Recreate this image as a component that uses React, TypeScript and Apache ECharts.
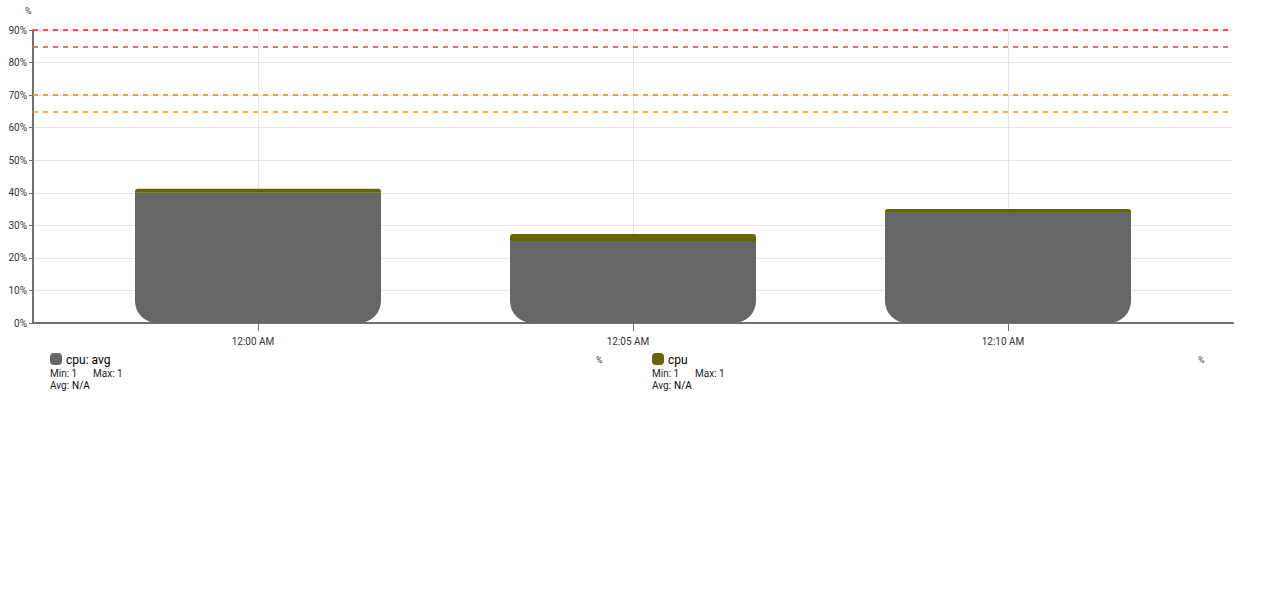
import React, { useEffect, useRef } from "react";
import * as echarts from "echarts";

// ---- data ----
const timeLabels = ["12:00 AM", "12:05 AM", "12:10 AM"];
const timeOffsetsMin = [0, 5, 10];
const axisPadMin = 3;
const cpuAvgValues = [40, 25.2, 34.1];
const cpuValues = [1.2, 2.1, 0.9];
const redThresholds = [90, 85];
const orangeThresholds = [70, 65];
const yTicks = [0, 10, 20, 30, 40, 50, 60, 70, 80, 90];
const legendItems = [
  { name: "cpu: avg", color: "#666666", min: "1", max: "1", avg: "N/A", unit: "%" },
  { name: "cpu", color: "#666600", min: "1", max: "1", avg: "N/A", unit: "%" },
];

const FONT = "Roboto, 'Noto Sans', sans-serif";

export default function App() {
  const ref = useRef<HTMLDivElement>(null);
  useEffect(() => {
    if (!ref.current) return;
    const chart = echarts.init(ref.current, undefined, { renderer: "svg" });

    const startMin = timeOffsetsMin[0] - axisPadMin;
    const endMin = timeOffsetsMin[timeOffsetsMin.length - 1] + axisPadMin;
    const slots: string[] = [];
    const avgData: (number | null)[] = [];
    const cpuData: (number | null)[] = [];
    for (let m = startMin; m <= endMin; m++) {
      const i = timeOffsetsMin.indexOf(m);
      slots.push(i >= 0 ? timeLabels[i] : "");
      avgData.push(i >= 0 ? cpuAvgValues[i] : null);
      cpuData.push(i >= 0 ? cpuValues[i] : null);
    }
    const isLabeled = (_idx: number, val: string) => val !== "";

    const markLines = [
      ...redThresholds.map((v, k) => ({
        yAxis: v,
        lineStyle: { color: k === 0 ? "#ff4848" : "#f55a5a", type: [5, 5], width: 2, opacity: k === 0 ? 1 : 0.9 },
      })),
      ...orangeThresholds.map((v, k) => ({
        yAxis: v,
        lineStyle: { color: k === 0 ? "#ff9a1a" : "#ffa033", type: [5, 5], width: 2, opacity: k === 0 ? 1 : 0.9 },
      })),
    ];

    const graphics: any[] = [
      {
        type: "text",
        left: 25,
        top: 6,
        style: { text: "%", fontSize: 9, fill: "#333", fontFamily: FONT },
      },
    ];
    legendItems.forEach((it, k) => {
      const x0 = 50 + k * 602;
      graphics.push(
        { type: "rect", shape: { x: x0, y: 353, width: 12, height: 12, r: 4 }, style: { fill: it.color } },
        { type: "text", x: x0 + 16, y: 360, style: { text: it.name, fontSize: 12, fontWeight: "normal", fill: "#000", fontFamily: FONT, verticalAlign: "middle" } },
        { type: "text", x: x0, y: 373, style: { text: "Min: " + it.min, fontSize: 10, fill: "#222", fontFamily: FONT, verticalAlign: "middle" } },
        { type: "text", x: x0 + 43, y: 373, style: { text: "Max: " + it.max, fontSize: 10, fill: "#222", fontFamily: FONT, verticalAlign: "middle" } },
        { type: "text", x: x0, y: 385, style: { text: "Avg: ", fontSize: 10, fill: "#222", fontFamily: FONT, verticalAlign: "middle" } },
        { type: "text", x: x0 + 22, y: 385, style: { text: it.avg, fontSize: 10, fill: "#000", fontFamily: FONT, verticalAlign: "middle" } },
        { type: "text", x: x0 + 546, y: 360, style: { text: it.unit, fontSize: 9, fill: "#444", fontFamily: FONT, verticalAlign: "middle" } }
      );
    });

    chart.setOption({
      animation: false,
      textStyle: { fontFamily: FONT },
      grid: { left: 33, right: 47, top: 30, bottom: 267, containLabel: false },
      xAxis: {
        type: "category",
        data: slots,
        boundaryGap: false,
        axisLine: { lineStyle: { color: "#707070", width: 2 } },
        axisTick: { interval: isLabeled, length: 8, lineStyle: { color: "#707070", width: 1 } },
        axisLabel: { interval: isLabeled, fontSize: 10, color: "#333", margin: 13, padding: [0, 10, 0, 0], fontFamily: FONT },
        splitLine: { show: true, interval: isLabeled, lineStyle: { color: "#e6e6e6", width: 1 } },
      },
      yAxis: {
        type: "value",
        min: yTicks[0],
        max: yTicks[yTicks.length - 1],
        interval: 10,
        axisLine: { show: true, lineStyle: { color: "#707070", width: 2 } },
        axisTick: { show: true, length: 4, lineStyle: { color: "#707070" } },
        axisLabel: { formatter: "{value}%", fontSize: 10, color: "#333", margin: 6, fontFamily: FONT },
        splitLine: { show: true, lineStyle: { color: "#e6e6e6", width: 1 } },
      },
      series: [
        {
          name: "cpu: avg",
          type: "bar",
          stack: "cpu",
          data: avgData,
          barWidth: 246,
          itemStyle: { color: "#666666", borderRadius: [0, 0, 22, 22] },
          markLine: {
            silent: true,
            symbol: "none",
            label: { show: false },
            data: markLines,
          },
        },
        {
          name: "cpu",
          type: "bar",
          stack: "cpu",
          data: cpuData,
          barWidth: 246,
          itemStyle: { color: "#666600", borderRadius: [3, 3, 0, 0] },
        },
      ],
      graphic: graphics,
    });
    return () => chart.dispose();
  }, []);
  return <div ref={ref} style={{ position: "absolute", left: 0, top: 0, width: 1280, height: 590 }} />;
}
